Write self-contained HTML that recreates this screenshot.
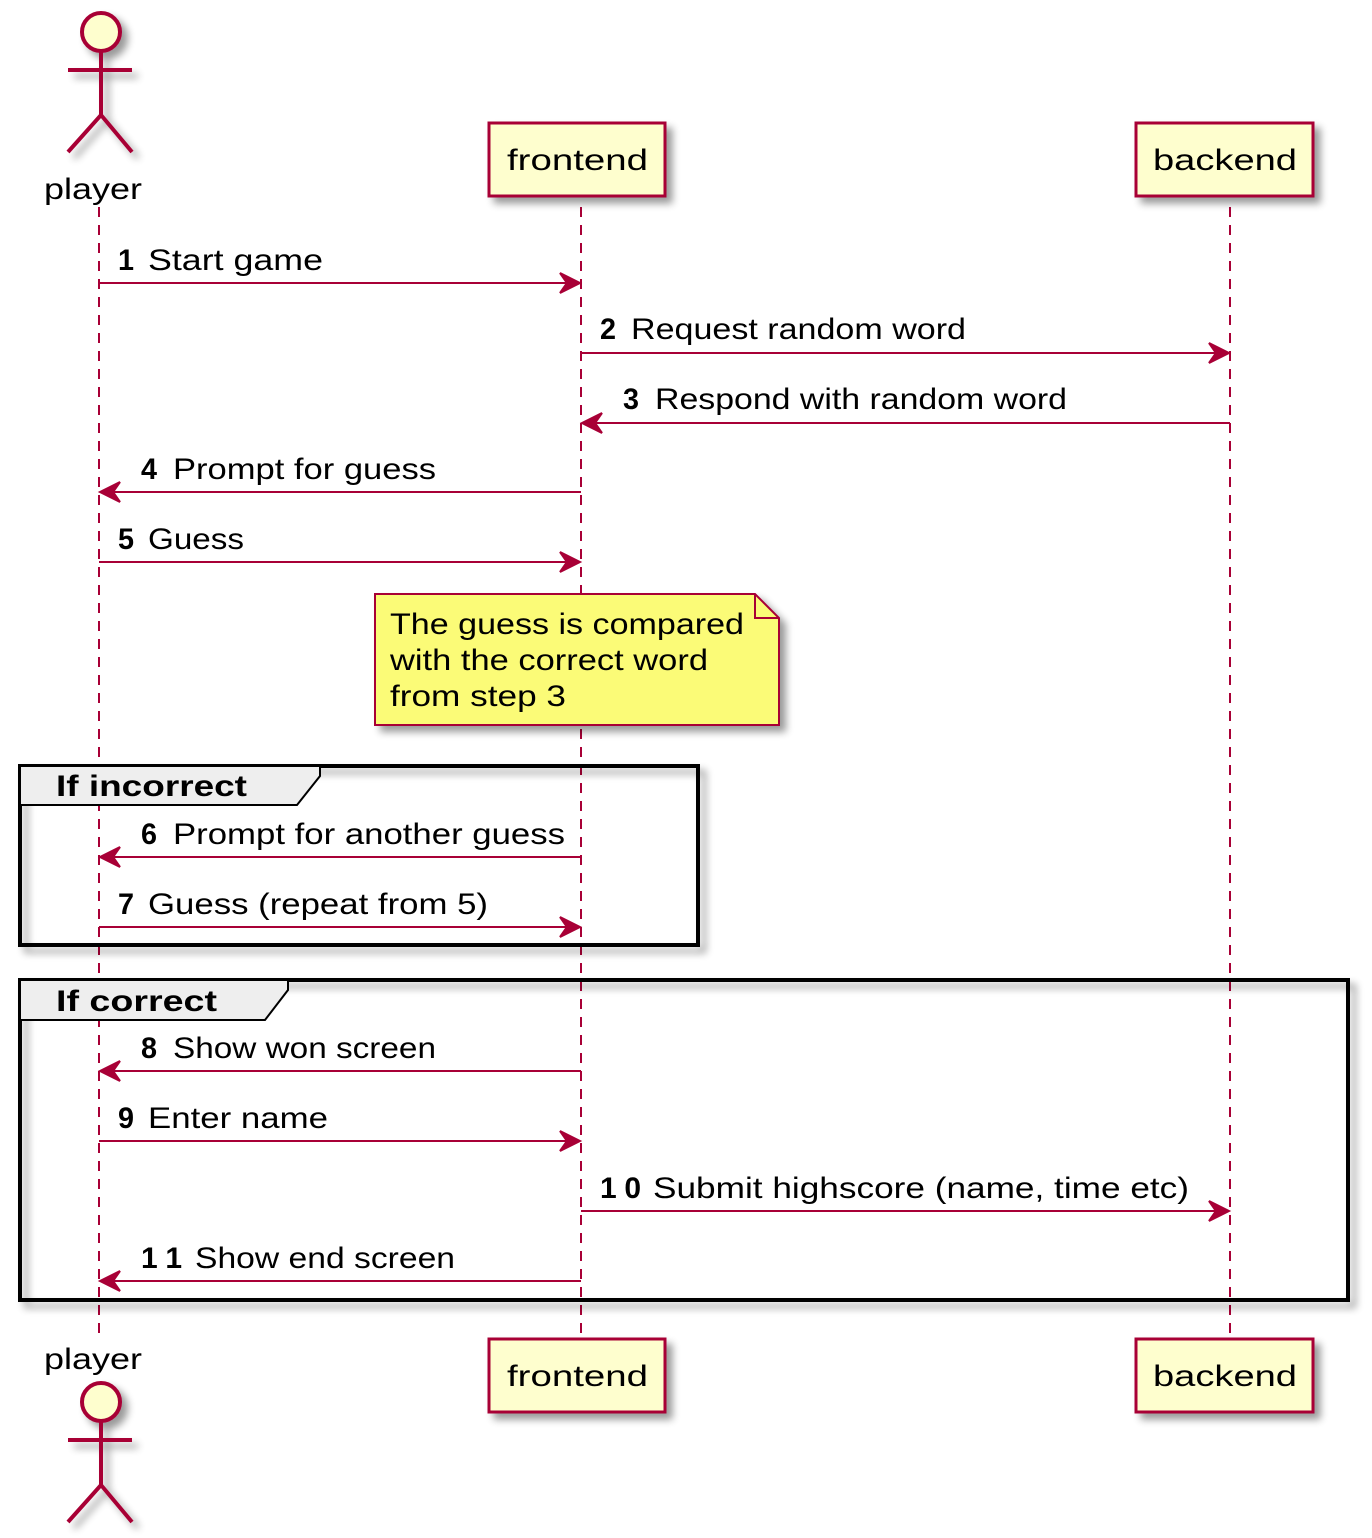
<!DOCTYPE html>
<html><head><meta charset="utf-8"><style>
html,body{margin:0;padding:0;background:#fff;}
svg{display:block;}
text{font-family:"Liberation Sans",sans-serif;font-size:30px;fill:#000;}
.b{font-weight:bold;}
</style></head><body>
<svg width="1372" height="1538" viewBox="0 0 1372 1538" xmlns="http://www.w3.org/2000/svg">
<defs>
<filter id="sh" x="-20%" y="-20%" width="150%" height="150%">
<feGaussianBlur in="SourceAlpha" stdDeviation="4"/>
<feOffset dx="6" dy="6" result="o"/>
<feComponentTransfer><feFuncA type="linear" slope="0.4"/></feComponentTransfer>
<feMerge><feMergeNode/><feMergeNode in="SourceGraphic"/></feMerge>
</filter>
</defs>
<g stroke="#a80036" stroke-width="2" stroke-dasharray="10,8" fill="none">
<line x1="99" y1="207" x2="99" y2="1340"/>
<line x1="581" y1="207" x2="581" y2="1340"/>
<line x1="1230" y1="207" x2="1230" y2="1340"/>
</g>
<g filter="url(#sh)" stroke="#a80036" stroke-width="4" fill="#fefece">
<ellipse cx="101" cy="32" rx="19" ry="19"/>
<path d="M101 51 V115 M68 70 H132 M68 152 L101 115 L132 152" fill="none"/>
<rect x="489" y="123" width="176" height="73" stroke-width="3"/>
<rect x="1136" y="123" width="177" height="73" stroke-width="3"/>
</g>
<text x="44" y="199" textLength="98" lengthAdjust="spacingAndGlyphs">player</text>
<text x="507" y="170" textLength="141" lengthAdjust="spacingAndGlyphs">frontend</text>
<text x="1153" y="170" textLength="144" lengthAdjust="spacingAndGlyphs">backend</text>
<g filter="url(#sh)" stroke="#a80036" stroke-width="4" fill="#fefece">
<ellipse cx="101" cy="1402" rx="19" ry="19"/>
<path d="M101 1421 V1485 M68 1440 H132 M68 1522 L101 1485 L132 1522" fill="none"/>
<rect x="489" y="1339" width="176" height="73" stroke-width="3"/>
<rect x="1136" y="1339" width="177" height="73" stroke-width="3"/>
</g>
<text x="44" y="1369" textLength="98" lengthAdjust="spacingAndGlyphs">player</text>
<text x="507" y="1386" textLength="141" lengthAdjust="spacingAndGlyphs">frontend</text>
<text x="1153" y="1386" textLength="144" lengthAdjust="spacingAndGlyphs">backend</text>
<g filter="url(#sh)">
<path d="M375 594 H755 L779 618 V725 H375 Z" fill="#fbfb77" stroke="#a80036" stroke-width="2"/>
<path d="M755 594 V618 H779" fill="none" stroke="#a80036" stroke-width="2"/>
</g>
<text x="390" y="634" textLength="354" lengthAdjust="spacingAndGlyphs">The guess is compared</text>
<text x="390" y="670" textLength="318" lengthAdjust="spacingAndGlyphs">with the correct word</text>
<text x="390" y="706" textLength="176" lengthAdjust="spacingAndGlyphs">from step 3</text>
<g filter="url(#sh)">
<rect x="20" y="766" width="678" height="179" fill="none" stroke="#000" stroke-width="4"/>
<rect x="20" y="980" width="1328" height="320" fill="none" stroke="#000" stroke-width="4"/>
</g>
<path d="M20 766 H320 V776 L297 805 H20 Z" fill="#eeeeee" stroke="#000" stroke-width="2"/>
<path d="M20 980 H288 V990 L265 1020 H20 Z" fill="#eeeeee" stroke="#000" stroke-width="2"/>
<text class="b" x="56" y="796" textLength="191" lengthAdjust="spacingAndGlyphs">If incorrect</text>
<text class="b" x="56" y="1011" textLength="161" lengthAdjust="spacingAndGlyphs">If correct</text>
<g stroke="#a80036" stroke-width="2" fill="#a80036">
<line x1="99" y1="283" x2="575" y2="283"/><polygon points="580,283 560,273 567,283 560,293"/>
<line x1="581" y1="353" x2="1224" y2="353"/><polygon points="1229,353 1209,343 1216,353 1209,363"/>
<line x1="587" y1="423" x2="1230" y2="423"/><polygon points="582,423 602,413 595,423 602,433"/>
<line x1="105" y1="492" x2="581" y2="492"/><polygon points="100,492 120,482 113,492 120,502"/>
<line x1="99" y1="562" x2="575" y2="562"/><polygon points="580,562 560,552 567,562 560,572"/>
<line x1="105" y1="857" x2="581" y2="857"/><polygon points="100,857 120,847 113,857 120,867"/>
<line x1="99" y1="927" x2="575" y2="927"/><polygon points="580,927 560,917 567,927 560,937"/>
<line x1="105" y1="1071" x2="581" y2="1071"/><polygon points="100,1071 120,1061 113,1071 120,1081"/>
<line x1="99" y1="1141" x2="575" y2="1141"/><polygon points="580,1141 560,1131 567,1141 560,1151"/>
<line x1="581" y1="1211" x2="1224" y2="1211"/><polygon points="1229,1211 1209,1201 1216,1211 1209,1221"/>
<line x1="105" y1="1281" x2="581" y2="1281"/><polygon points="100,1281 120,1271 113,1281 120,1291"/>
</g>
<text class="b" x="118" y="270" textLength="16" lengthAdjust="spacingAndGlyphs">1</text><text x="148" y="270" textLength="175" lengthAdjust="spacingAndGlyphs">Start game</text>
<text class="b" x="600" y="339" textLength="16" lengthAdjust="spacingAndGlyphs">2</text><text x="631" y="339" textLength="335" lengthAdjust="spacingAndGlyphs">Request random word</text>
<text class="b" x="623" y="409" textLength="16" lengthAdjust="spacingAndGlyphs">3</text><text x="655" y="409" textLength="412" lengthAdjust="spacingAndGlyphs">Respond with random word</text>
<text class="b" x="141" y="479" textLength="16" lengthAdjust="spacingAndGlyphs">4</text><text x="173" y="479" textLength="263" lengthAdjust="spacingAndGlyphs">Prompt for guess</text>
<text class="b" x="118" y="549" textLength="16" lengthAdjust="spacingAndGlyphs">5</text><text x="148" y="549" textLength="96" lengthAdjust="spacingAndGlyphs">Guess</text>
<text class="b" x="141" y="844" textLength="16" lengthAdjust="spacingAndGlyphs">6</text><text x="173" y="844" textLength="392" lengthAdjust="spacingAndGlyphs">Prompt for another guess</text>
<text class="b" x="118" y="914" textLength="16" lengthAdjust="spacingAndGlyphs">7</text><text x="148" y="914" textLength="340" lengthAdjust="spacingAndGlyphs">Guess (repeat from 5)</text>
<text class="b" x="141" y="1058" textLength="16" lengthAdjust="spacingAndGlyphs">8</text><text x="173" y="1058" textLength="263" lengthAdjust="spacingAndGlyphs">Show won screen</text>
<text class="b" x="118" y="1128" textLength="16" lengthAdjust="spacingAndGlyphs">9</text><text x="148" y="1128" textLength="180" lengthAdjust="spacingAndGlyphs">Enter name</text>
<text class="b" x="600" y="1198" textLength="41" lengthAdjust="spacing">1 0</text><text x="653" y="1198" textLength="536" lengthAdjust="spacingAndGlyphs">Submit highscore (name, time etc)</text>
<text class="b" x="141" y="1268" textLength="41" lengthAdjust="spacing">1 1</text><text x="195" y="1268" textLength="260" lengthAdjust="spacingAndGlyphs">Show end screen</text>
</svg>
</body></html>
